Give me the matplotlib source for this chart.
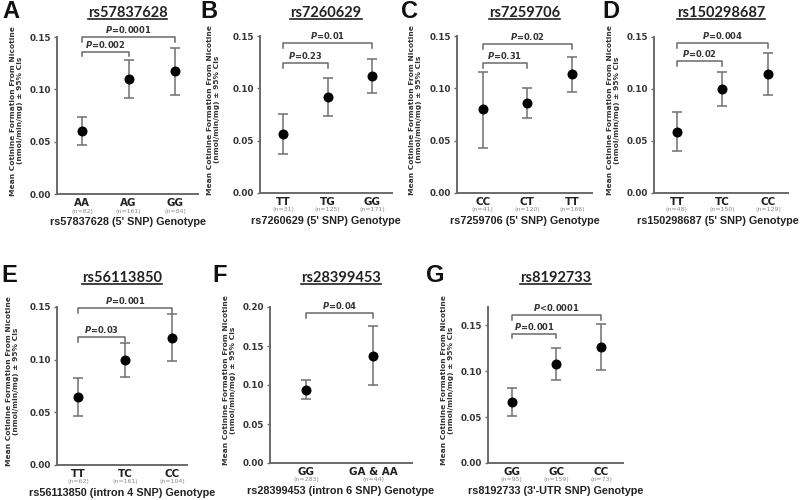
import matplotlib
matplotlib.use("Agg")
import matplotlib.pyplot as plt
from matplotlib.lines import Line2D
from matplotlib import transforms

plt.rcParams['mathtext.fontset'] = 'custom'
plt.rcParams['mathtext.it'] = 'DejaVu Sans:italic:bold'
plt.rcParams['mathtext.rm'] = 'DejaVu Sans:bold'

# ---------------- data ----------------
panel_letters = ["A", "B", "C", "D", "E", "F", "G"]
snps = ["rs57837628", "rs7260629", "rs7259706", "rs150298687",
        "rs56113850", "rs28399453", "rs8192733"]
xlabels = ["rs57837628 (5' SNP) Genotype", "rs7260629 (5' SNP) Genotype",
           "rs7259706 (5' SNP) Genotype", "rs150298687 (5' SNP) Genotype",
           "rs56113850 (intron 4 SNP) Genotype", "rs28399453 (intron 6 SNP) Genotype",
           "rs8192733 (3'-UTR SNP) Genotype"]
genotypes = [["AA", "AG", "GG"], ["TT", "TG", "GG"], ["CC", "CT", "TT"],
             ["TT", "TC", "CC"], ["TT", "TC", "CC"], ["GG", "GA & AA"],
             ["GG", "GC", "CC"]]
n_counts = [[82, 161, 84], [31, 125, 171], [41, 120, 166], [48, 150, 129],
            [62, 161, 104], [283, 44], [95, 159, 73]]
means = [[0.060, 0.110, 0.1175], [0.0565, 0.092, 0.112], [0.080, 0.086, 0.1137],
         [0.0587, 0.100, 0.1144], [0.0646, 0.0997, 0.1206], [0.0936, 0.137],
         [0.0663, 0.1076, 0.126]]
ci_low = [[0.047, 0.0917, 0.0946], [0.037, 0.0736, 0.0955], [0.043, 0.0717, 0.0965],
          [0.040, 0.0837, 0.0942], [0.0465, 0.0835, 0.0987], [0.082, 0.100],
          [0.051, 0.090, 0.101]]
ci_high = [[0.0736, 0.128, 0.1395], [0.0755, 0.110, 0.128], [0.1156, 0.1003, 0.130],
           [0.0779, 0.116, 0.1346], [0.0826, 0.116, 0.143], [0.106, 0.1756],
           [0.0815, 0.125, 0.151]]
comparisons = [[(0, 1), (0, 2)], [(0, 1), (0, 2)], [(0, 1), (0, 2)], [(0, 1), (0, 2)],
               [(0, 1), (0, 2)], [(0, 1)], [(0, 1), (0, 2)]]
p_values = [["=0.002", "=0.0001"], ["=0.23", "=0.01"], ["=0.31", "=0.02"],
            ["=0.02", "=0.004"], ["=0.03", "=0.001"], ["=0.04"],
            ["=0.001", "<0.0001"]]
bracket_y = [[0.136, 0.150], [0.124, 0.143], [0.124, 0.142], [0.127, 0.144],
             [0.1215, 0.149], [0.192], [0.141, 0.161]]
yticks = [[0, 0.05, 0.10, 0.15]] * 5 + [[0, 0.05, 0.10, 0.15, 0.20]] + [[0, 0.05, 0.10, 0.15]]
ylabel = "Mean Cotinine Formation From Nicotine\n(nmol/min/mg) \u00b1 95% CIs"

# ---------------- layout (pixels) ----------------
W, H = 800, 500
axes_px = [(57, 37, 198, 194), (260, 36, 392, 193), (457, 36, 592, 193), (654, 37, 788, 193),
           (57, 307, 187, 465), (270, 307, 412, 463), (488, 307, 623, 463)]
xlims = [(-0.54, 2.49), (-0.52, 2.45), (-0.58, 2.45), (-0.50, 2.44),
         (-0.45, 2.32), (-0.54, 1.58), (-0.53, 2.49)]
ylims = [(0, 0.15)] * 5 + [(0, 0.20), (0, 0.17)]
letter_pos = [(11, 12), (209, 12), (410, 12), (611, 12), (9, 276), (220, 276), (435, 276)]
title_y = [13, 13, 13, 13, 278, 278, 278]
ylab_off = [-40, -47, -42, -41, -44, -41, -40]
xlab_shift = [0, 0, 0, -3, 0, 0, 0]

AX_COL = '#6a6a6a'
fig = plt.figure(figsize=(8, 5), dpi=100)
titles = []

for k in range(7):
    x0, y0, x1, y1 = axes_px[k]
    ax = fig.add_axes([x0 / W, 1 - y1 / H, (x1 - x0) / W, (y1 - y0) / H])
    xs = list(range(len(genotypes[k])))
    m = means[k]
    lo = [mm - l for mm, l in zip(m, ci_low[k])]
    hi = [h - mm for mm, h in zip(m, ci_high[k])]
    ax.errorbar(xs, m, yerr=[lo, hi], fmt='o', color='black', ecolor='#707070',
                elinewidth=1.1, capsize=3.6, capthick=1.1, markersize=6.2, zorder=3)
    ax.set_xlim(*xlims[k])
    ax.set_ylim(*ylims[k])
    for s in ['top', 'right']:
        ax.spines[s].set_visible(False)
    for s in ['left', 'bottom']:
        ax.spines[s].set_color(AX_COL)
        ax.spines[s].set_linewidth(1.4)
    ax.set_yticks(yticks[k])
    ax.set_yticklabels([f"{v:.2f}" for v in yticks[k]], fontsize=6.3,
                       fontweight='bold', color='#333333')
    ax.tick_params(axis='y', length=2.5, width=1, color=AX_COL, pad=1.5)
    ax.set_xticks(xs)
    ax.set_xticklabels(genotypes[k], fontsize=7.5, fontweight='bold', color='#222222')
    ax.tick_params(axis='x', length=0, pad=3)
    trans = transforms.blended_transform_factory(ax.transData, ax.transAxes)
    for i, n in enumerate(n_counts[k]):
        ax.annotate(f"(n={n})", xy=(i, 0), xycoords=trans, xytext=(0, -17),
                    textcoords='offset pixels', ha='center', va='center',
                    fontsize=4.5, color='#8a8a8a')
    ax.annotate(xlabels[k], xy=(0.5, 0), xycoords='axes fraction',
                xytext=(xlab_shift[k], -28),
                textcoords='offset pixels', ha='center', va='center',
                fontsize=7.8, fontweight='bold', family='Liberation Sans',
                color='#222222')
    ax.annotate(ylabel, xy=(0, 0.53), xycoords='axes fraction', xytext=(ylab_off[k], 0),
                textcoords='offset pixels', ha='center', va='center', rotation=90,
                fontsize=5.4, fontweight='bold', color='#333333', linespacing=1.2)
    # brackets
    yr = ylims[k][1] - ylims[k][0]
    for (a, b), pv, yb in zip(comparisons[k], p_values[k], bracket_y[k]):
        d = 0.03 * yr
        ax.plot([a, a, b, b], [yb - d, yb, yb, yb - d], color=AX_COL, lw=1.1,
                clip_on=False, zorder=2)
        ax.text((a + b) / 2, yb + 0.012 * yr, r"$P$" + pv, ha='center', va='bottom',
                fontsize=6, fontweight='bold', color='#333333', clip_on=False)
    # title and letter
    t = fig.text(((x0 + x1) / 2) / W, 1 - title_y[k] / H, snps[k], ha='center',
                 va='center', fontsize=10.5, fontweight='bold', family='Lato',
                 color='#222222')
    titles.append(t)
    fig.text(letter_pos[k][0] / W, 1 - letter_pos[k][1] / H, panel_letters[k],
             ha='center', va='center', fontsize=17, fontweight='bold',
             family='Liberation Sans', color='#111111')

# underline titles
fig.canvas.draw()
r = fig.canvas.get_renderer()
for t in titles:
    bb = t.get_window_extent(r)
    yline = (bb.y0 + 1.5) / H
    fig.add_artist(Line2D([bb.x0 / W, bb.x1 / W], [yline, yline],
                          transform=fig.transFigure, color='#222222', lw=1.2))

fig.savefig("out.png", dpi=100)
